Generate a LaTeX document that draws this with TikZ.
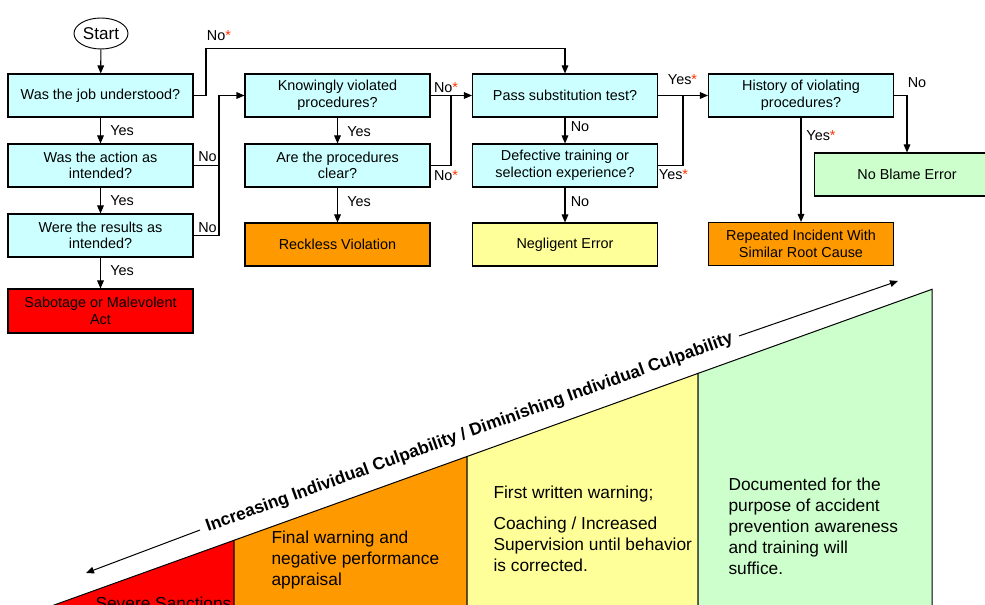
\documentclass[tikz,border=0pt]{standalone}
\usepackage{fontspec}
\setmainfont{Liberation Sans}
\usetikzlibrary{arrows.meta,shapes.geometric}
\definecolor{qcyan}{HTML}{CCFFFF}
\definecolor{sred}{HTML}{FF0000}
\definecolor{sorange}{HTML}{FF9900}
\definecolor{syellow}{HTML}{FFFF99}
\definecolor{sgreen}{HTML}{CCFFCC}
\definecolor{starred}{HTML}{FF3300}
\newcommand{\qfont}{\fontsize{10.8}{12.5}\selectfont}
\newcommand{\wfont}{\fontsize{13}{15.75}\selectfont}
\newcommand{\st}{\textcolor{starred}{*}}
\tikzset{
  question/.style={draw, fill=qcyan, minimum width=138.75pt, minimum height=32.25pt,
    inner sep=0pt, align=center, font=\qfont},
  outcome/.style={question, fill=#1},
  lbl/.style={font=\qfont, inner sep=0pt},
  band/.style={draw, line width=0.75pt},
  bandtext/.style={anchor=west, align=left, inner sep=0pt, font=\wfont},
}
\begin{document}
\begin{tikzpicture}[x=0.75pt,y=-0.75pt,line width=0.8pt,>={Triangle[length=6pt,width=5pt]}]
\useasboundingbox (0,0) rectangle (985,605);
\clip (0,0) rectangle (985,605);
% bands
\draw[band, fill=sred] (12.5,620) -- (234,540.3) -- (234,620) -- cycle;
\draw[band, fill=sorange] (234,540.3) -- (467,456.5) -- (467,620) -- (234,620) -- cycle;
\draw[band, fill=syellow] (467,456.5) -- (698,373.4) -- (698,620) -- (467,620) -- cycle;
\draw[band, fill=sgreen] (698,373.4) -- (932,289.3) -- (932,620) -- (698,620) -- cycle;
\node[bandtext] (severe) at (95,603.5) {Severe Sanctions};
\node[bandtext] (final) at (271,560) {Final warning and\\negative performance\\appraisal};
\node[bandtext] (first) at (493,529) {First written warning;\\[7.5pt]Coaching / Increased\\Supervision until behavior\\is corrected.};
\node[bandtext] (documented) at (728,526) {Documented for the\\purpose of accident\\prevention awareness\\and training will\\suffice.};
\node[font=\wfont\bfseries, rotate=19.8, inner sep=5pt] (trend) at (469.5,433)
  {Increasing Individual Culpability / Diminishing Individual Culpability};
\coordinate (arLeft) at (86,573);
\coordinate (arRight) at (898,281);
\draw[->, line width=0.75pt] (trend.west) -- (arLeft);
\draw[->, line width=0.75pt] (trend.east) -- (arRight);
% flow chart
\node[draw, ellipse, line width=0.7pt, minimum width=40.5pt, minimum height=23.25pt, inner sep=0pt,
  fill=white, font=\fontsize{12.8}{14}\selectfont] (start) at (101,33.5) {Start};
\node[question] (job) at (100.5,95.5) {Was the job understood?};
\node[question] (action) at (100.5,165.5) {Was the action as\\intended?};
\node[question] (results) at (100.5,235.5) {Were the results as\\intended?};
\node[outcome=sred, minimum height=33pt] (sabotage) at (100.5,311) {Sabotage or Malevolent\\Act};
\node[question] (knowingly) at (337.5,95.5) {Knowingly violated\\procedures?};
\node[question] (clear) at (337.5,165.5) {Are the procedures\\clear?};
\node[outcome=sorange] (reckless) at (337.5,244.5) {Reckless Violation};
\node[question] (subst) at (565,95.5) {Pass substitution test?};
\node[question] (training) at (565,165.5) {Defective training or\\selection experience?};
\node[outcome=syellow] (negligent) at (565,244.5) {Negligent Error};
\node[question] (history) at (801,95.5) {History of violating\\procedures?};
\node[outcome=sgreen] (noblame) at (907,174.5) {No Blame Error};
\node[outcome=sorange] (repeated) at (801,244) {Repeated Incident With\\Similar Root Cause};
\coordinate (j0) at (206,48.5);
\coordinate (j1) at (219,95.5);
\coordinate (j2) at (451,95.5);
\coordinate (j3) at (683,95.5);
\draw[->] (start) -- (job);
\draw[->] (job) -- (action);
\draw[->] (action) -- (results);
\draw[->] (results) -- (sabotage);
\draw[->] (job.east) -| (j0) -| (subst);
\draw[->] (results.east) -| (j1) -- (knowingly);
\draw (action.east) -- (action.east -| j1);
\draw[->] (knowingly) -- (clear);
\draw[->] (clear) -- (reckless);
\draw[->] (knowingly.east) -- (j2) -- (subst);
\draw (clear.east) -| (j2);
\draw[->] (subst) -- (training);
\draw[->] (training) -- (negligent);
\draw[->] (subst.east) -- (j3) -- (history);
\draw (training.east) -| (j3);
\draw[->] (history) -- (repeated);
\draw[->] (history.east) -| (noblame);
% labels
\node[lbl] (l1) at (219,36) {No\st};
\node[lbl] (l2) at (122,131) {Yes};
\node[lbl] (l3) at (122,201) {Yes};
\node[lbl] (l4) at (122,271) {Yes};
\node[lbl] (l5) at (207.5,157) {No};
\node[lbl] (l6) at (207.5,228) {No};
\node[lbl] (l7) at (446,88) {No\st};
\node[lbl] (l8) at (446,176) {No\st};
\node[lbl] (l9) at (359,132) {Yes};
\node[lbl] (l10) at (359,202) {Yes};
\node[lbl] (l11) at (580,127) {No};
\node[lbl] (l12) at (580,202) {No};
\node[lbl] (l13) at (682.5,80) {Yes\st};
\node[lbl] (l14) at (673.5,175) {Yes\st};
\node[lbl] (l15) at (821,136) {Yes\st};
\node[lbl] (l16) at (917,83) {No};
\end{tikzpicture}
\end{document}
